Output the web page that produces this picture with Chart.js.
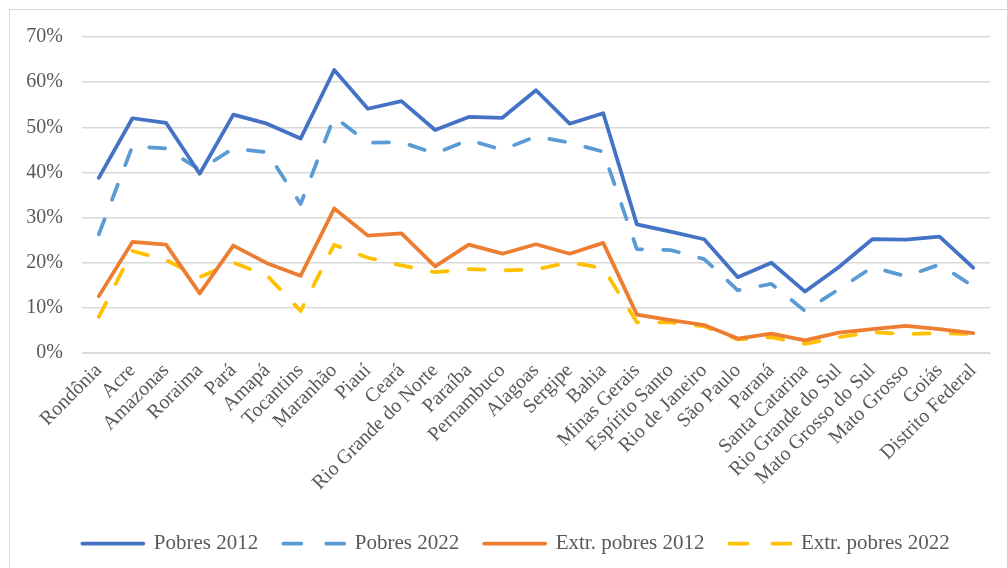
<!DOCTYPE html>
<html>
<head>
<meta charset="utf-8">
<script src="https://cdn.jsdelivr.net/npm/chart.js@4"></script>
<style>
html,body{margin:0;padding:0;background:#fff;}
#frame{position:absolute;left:9px;top:9px;width:1010px;height:570px;border:1px solid #d9d9d9;box-sizing:border-box;}
#wrap{position:absolute;left:0;top:0;width:1007px;height:568px;}
</style>
</head>
<body>
<div id="frame"></div>
<div id="wrap"><canvas id="c" width="1007" height="568"></canvas></div>
<script>
const categories = ["Rondônia","Acre","Amazonas","Roraima","Pará","Amapá","Tocantins","Maranhão","Piauí","Ceará","Rio Grande do Norte","Paraíba","Pernambuco","Alagoas","Sergipe","Bahia","Minas Gerais","Espírito Santo","Rio de Janeiro","São Paulo","Paraná","Santa Catarina","Rio Grande do Sul","Mato Grosso do Sul","Mato Grosso","Goiás","Distrito Federal"];
const pobres2012 = [38.8,52.0,51.0,39.7,52.8,50.8,47.5,62.7,54.1,55.8,49.4,52.3,52.1,58.2,50.8,53.1,28.5,26.9,25.2,16.8,20.0,13.6,19.0,25.2,25.1,25.8,18.9];
const pobres2022 = [26.3,45.8,45.3,40.6,45.3,44.5,33.0,52.3,46.6,46.7,44.2,47.2,45.0,48.0,46.6,44.6,23.0,22.8,20.8,13.9,15.3,9.3,14.1,19.0,17.0,19.6,14.8];
const extr2012 = [12.6,24.6,24.0,13.2,23.8,19.9,17.1,32.0,26.0,26.5,19.2,24.0,22.0,24.1,22.0,24.4,8.5,7.3,6.2,3.2,4.3,2.8,4.5,5.3,6.0,5.3,4.4];
const extr2022 = [8.0,22.6,20.6,16.8,20.0,17.2,9.3,24.0,21.1,19.4,17.9,18.6,18.3,18.5,20.1,18.8,6.8,6.8,5.9,3.0,3.5,2.0,3.5,4.6,4.2,4.4,4.2];
const yTicks = [0,10,20,30,40,50,60,70];

const serif = "'Liberation Serif','Times New Roman',serif";
const grey = '#595959';

const shiftLegend = {
  id: 'shiftLegend',
  afterLayout(chart) {
    const lg = chart.legend;
    if (lg) { lg.left += 21; lg.right += 21; }
  }
};

new Chart(document.getElementById('c'), {
  type: 'line',
  data: {
    labels: categories,
    datasets: [
      {label:'Pobres 2012', data:pobres2012, borderColor:'#4472C4', backgroundColor:'#4472C4'},
      {label:'Pobres 2022', data:pobres2022, borderColor:'#5B9BD5', backgroundColor:'#5B9BD5', borderDash:[16,21]},
      {label:'Extr. pobres 2012', data:extr2012, borderColor:'#ED7D31', backgroundColor:'#ED7D31'},
      {label:'Extr. pobres 2022', data:extr2022, borderColor:'#FFC000', backgroundColor:'#FFC000', borderDash:[16,21]}
    ].map(d => Object.assign({borderWidth:3.75, pointRadius:0, tension:0, fill:false, borderCapStyle:'round', borderJoinStyle:'round', pointStyle:'line'}, d))
  },
  plugins: [shiftLegend],
  options: {
    responsive: false,
    animation: false,
    layout: {padding: {top: 37, right: 17, left: 0, bottom: 4}},
    plugins: {
      tooltip: {enabled:false},
      legend: {
        position: 'bottom',
        labels: {
          usePointStyle: true,
          pointStyleWidth: 61,
          boxHeight: 21,
          padding: 25,
          color: grey,
          font: {family: serif, size: 21},
          generateLabels: (chart) => {
            const items = Chart.defaults.plugins.legend.labels.generateLabels(chart);
            items.forEach(it => {
              const ds = chart.data.datasets[it.datasetIndex];
              it.lineDash = ds.borderDash ? [18, 25] : [];
              it.lineDashOffset = 0;
              it.lineCap = 'round';
              it.lineWidth = 3.75;
              it.strokeStyle = ds.borderColor;
            });
            return items;
          }
        }
      }
    },
    scales: {
      x: {
        offset: true,
        grid: {display:false, drawTicks:false},
        border: {display:true, color:'#d9d9d9'},
        ticks: {autoSkip:false, minRotation:45, maxRotation:45, padding:6, color:grey, font:{family:serif, size:20}},
        afterFit: s => { s.height = 155; }
      },
      y: {
        min: 0, max: 70,
        afterBuildTicks: s => { s.ticks = yTicks.map(v => ({value:v})); },
        grid: {color:'#d9d9d9', lineWidth:1.5, drawTicks:false},
        border: {display:false},
        ticks: {padding:19, color:grey, font:{family:serif, size:20}, callback: v => v + '%'},
        afterFit: s => { s.width = 82; }
      }
    }
  }
});
</script>
</body>
</html>
